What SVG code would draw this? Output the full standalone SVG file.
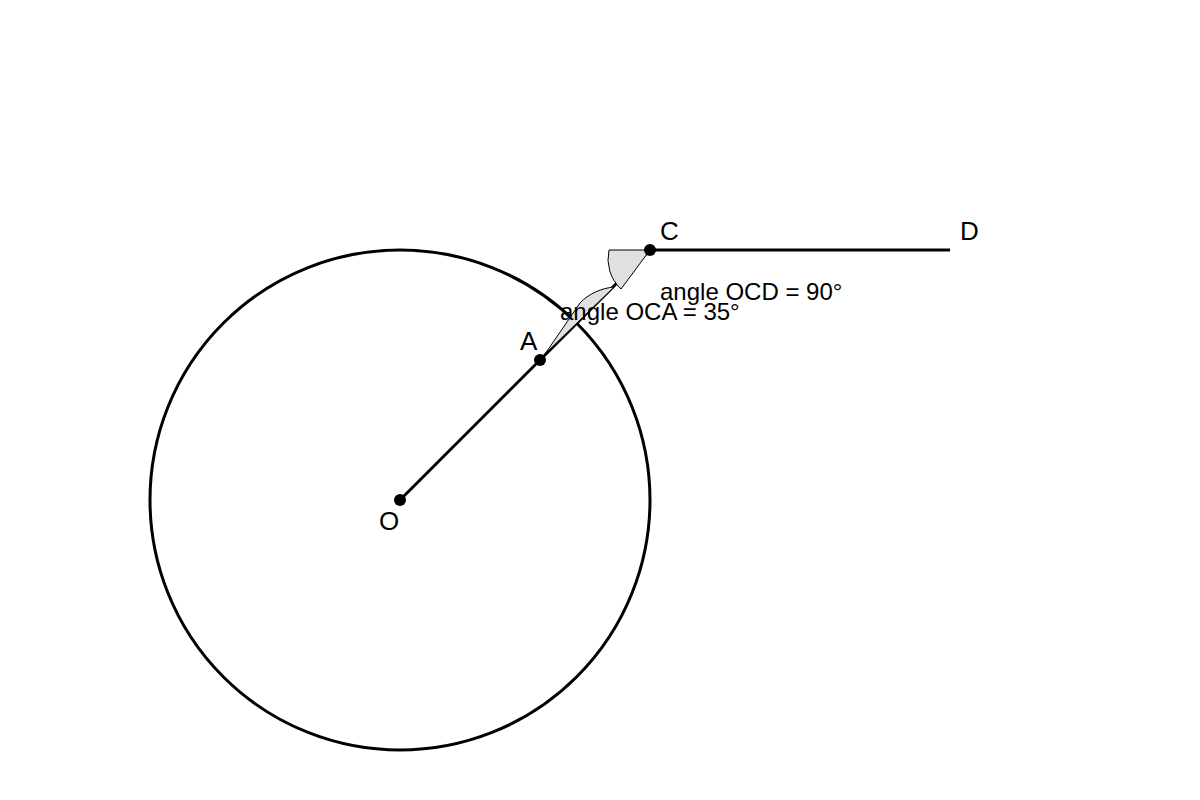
<svg xmlns="http://www.w3.org/2000/svg" width="1200" height="800" viewBox="0 0 1200 800">
<style>
.ln{stroke:#000;stroke-width:3;fill:none}
.wedge{fill:#e0e0e0;stroke:#000;stroke-width:1}
.pt{fill:#000}
.lbl{font-family:"Liberation Sans",Arial,sans-serif;font-size:24px;fill:#000}
.plbl{font-family:"Liberation Sans",Arial,sans-serif;font-size:26px;fill:#000}
</style>
<rect width="1200" height="800" fill="#fff"/>
<g id="circle"><circle cx="400" cy="500" r="250" class="ln"/></g>
<g id="connectors">
<line x1="400" y1="500" x2="650" y2="250" class="ln" stroke-width="2.5"/>
<line x1="650" y1="250" x2="950" y2="250" class="ln"/>
</g>
<g id="angle-OCA">
<path class="wedge" d="M545,354 L614,287 C602,288 588,294 580,303 Z"/>
<text class="lbl" x="560" y="320">angle OCA = 35°</text>
</g>
<g id="angle-OCD">
<path class="wedge" d="M650,250 L609,250 A41,41 0 0,0 621,289 Z"/>
<text class="lbl" x="660" y="300">angle OCD = 90°</text>
</g>
<g id="O"><circle class="pt" cx="400" cy="500" r="6"/><text class="plbl" x="379" y="530">O</text></g>
<g id="A"><circle class="pt" cx="540" cy="360" r="6"/><text class="plbl" x="520" y="350">A</text></g>
<g id="C"><circle class="pt" cx="650" cy="250" r="6"/><text class="plbl" x="660" y="240">C</text></g>
<g id="D"><text class="plbl" x="960" y="240">D</text></g>
</svg>
